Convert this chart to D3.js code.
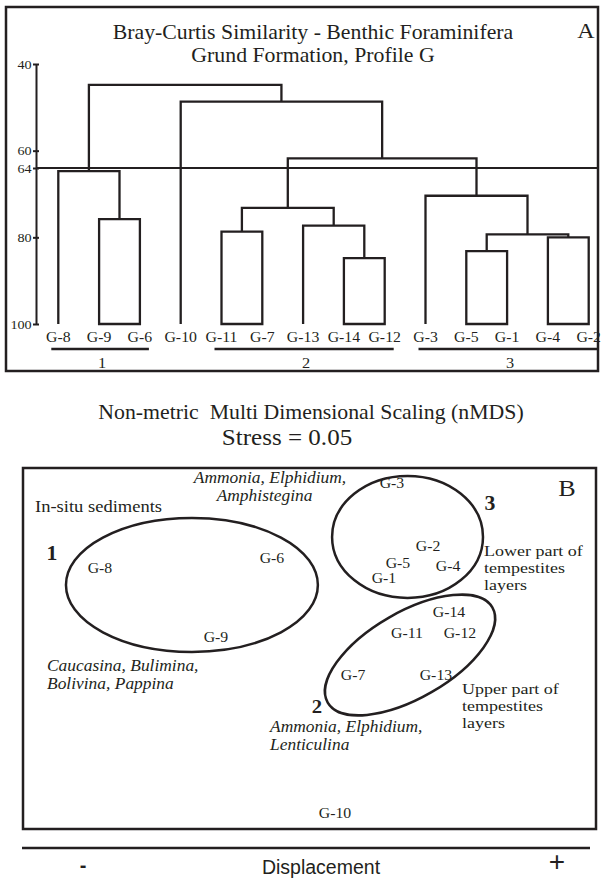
<!DOCTYPE html>
<html>
<head>
<meta charset="utf-8">
<script src="https://cdn.jsdelivr.net/npm/d3@7"></script>
<style>
  body { margin: 0; background: #fff; }
  svg { display: block; }
  text { font-family: "Liberation Serif", "Times New Roman", serif; fill: #231f20; }
  .sans { font-family: "Liberation Sans", Arial, sans-serif; }
</style>
</head>
<body>
<svg id="chart" width="603" height="879"></svg>
<script>
// ---- panel A: dendrogram data ----
const leaves = ['G-8', 'G-9', 'G-6', 'G-10', 'G-11', 'G-7', 'G-13', 'G-14', 'G-12', 'G-3', 'G-5', 'G-1', 'G-4', 'G-2'];
const simTicks = [40, 60, 64, 80, 100];
const cutLevel = 64;
// merge i joins mergeA[i] and mergeB[i] at mergeSim[i]; merged node is called "m" + i
const mergeA = ['G-9', 'G-8', 'G-11', 'G-14', 'G-13', 'm2', 'G-5', 'G-4', 'm6', 'G-3', 'm5', 'G-10', 'm1'];
const mergeB = ['G-6', 'm0', 'G-7', 'G-12', 'm3', 'm4', 'G-1', 'G-2', 'm7', 'm8', 'm9', 'm10', 'm11'];
const mergeSim = [75.8, 64.7, 78.7, 84.8, 77.3, 73.2, 83.2, 80.0, 79.3, 70.4, 61.8, 48.7, 44.8];
const clusterNames = ['1', '2', '3'];
const clusterFirst = ['G-8', 'G-11', 'G-3'];
const clusterLast = ['G-6', 'G-12', 'G-2'];

// ---- panel B: nMDS data ----
const mdsLabels = ['G-8', 'G-6', 'G-9', 'G-3', 'G-2', 'G-5', 'G-4', 'G-1', 'G-14', 'G-11', 'G-12', 'G-7', 'G-13', 'G-10'];
const mdsX = [-1.094, -0.198, -0.490, 0.427, 0.615, 0.458, 0.719, 0.385, 0.724, 0.505, 0.781, 0.224, 0.656, 0.130];
const mdsY = [0.446, 0.501, 0.064, 0.917, 0.568, 0.474, 0.457, 0.391, 0.202, 0.086, 0.086, -0.147, -0.147, -0.911];
const groupCx = [-0.615, 0.521, 0.508];
const groupCy = [0.352, -0.036, 0.618];
const groupRx = [0.656, 0.495, 0.393];
const groupRy = [0.371, 0.238, 0.338];
const groupTilt = [0, -30, 0];

const ink = '#231f20';
const stretch = 1.09; // the original lettering is a little wider than Times
const at = (px, py, s = stretch) => `translate(${px},${py}) scale(${s},1)`;
const svg = d3.select('#chart');

// multi-line serif label, drawn as one text with tspans
const note = (px, py, lines, opts = {}) => {
  const t = svg.append('text')
    .attr('transform', at(px, py, opts.stretch || stretch))
    .attr('font-size', opts.size || 17)
    .attr('text-anchor', opts.anchor || 'start');
  if (opts.italic) t.attr('font-style', 'italic');
  if (opts.bold) t.attr('font-weight', 'bold');
  if (opts.pre) t.style('white-space', 'pre');
  [].concat(lines).forEach((ln, i) => {
    t.append('tspan')
      .attr('x', opts.dx ? opts.dx[i] || 0 : 0)
      .attr('dy', i === 0 ? 0 : (opts.lead || 16.5))
      .text(ln);
  });
  return t;
};

// ================= panel A =================
svg.append('rect')
  .attr('x', 6).attr('y', 7).attr('width', 592).attr('height', 364)
  .attr('fill', 'none').attr('stroke', ink).attr('stroke-width', 2.5);

note(313, 39, ['Bray-Curtis Similarity - Benthic Foraminifera', 'Grund Formation, Profile G'],
  { size: 20, anchor: 'middle', lead: 23 });
note(586, 38, 'A', { size: 22, anchor: 'middle' });

const x = d3.scalePoint().domain(leaves).range([58.3, 588.7]);
const y = d3.scaleLinear().domain([40, 100]).range([64, 324]);

const yAxis = svg.append('g')
  .attr('transform', 'translate(36,0)')
  .call(d3.axisLeft(y).tickValues(simTicks).tickSize(3).tickPadding(1).tickSizeOuter(0));
yAxis.select('.domain').attr('stroke', ink).attr('stroke-width', 2);
yAxis.selectAll('.tick line').attr('stroke', ink).attr('stroke-width', 2).attr('x2', 3).attr('x1', -3);
yAxis.selectAll('.tick text')
  .attr('font-family', '"Liberation Serif", "Times New Roman", serif')
  .attr('font-size', 13).attr('fill', ink)
  .attr('transform', `scale(${stretch},1)`);

// cut line at 64
svg.append('line')
  .attr('x1', 36).attr('x2', 598).attr('y1', y(cutLevel)).attr('y2', y(cutLevel))
  .attr('stroke', ink).attr('stroke-width', 2);

const nodes = {};
leaves.forEach(name => { nodes[name] = { x: x(name), y: y(100), leaf: true }; });
mergeA.forEach((a, i) => {
  const na = nodes[a];
  const nb = nodes[mergeB[i]];
  nodes['m' + i] = { x: (na.x + nb.x) / 2, y: y(mergeSim[i]), a: na, b: nb, leaf: false };
});

const links = mergeA.map((_, i) => nodes['m' + i]);
svg.append('g').selectAll('path')
  .data(links)
  .join('path')
  .attr('d', d => {
    const p = d3.path();
    p.moveTo(d.a.x, d.a.y);
    p.lineTo(d.a.x, d.y);
    p.lineTo(d.b.x, d.y);
    p.lineTo(d.b.x, d.b.y);
    if (d.a.leaf && d.b.leaf) p.closePath();
    return p.toString();
  })
  .attr('fill', 'none')
  .attr('stroke', ink)
  .attr('stroke-width', 2.3);

svg.append('g').selectAll('text')
  .data(leaves)
  .join('text')
  .attr('transform', d => at(x(d), 342))
  .attr('text-anchor', 'middle')
  .attr('font-size', 14.5)
  .text(d => d);

const clusters = svg.append('g').selectAll('g')
  .data(clusterNames)
  .join('g');
clusters.append('line')
  .attr('x1', (d, i) => x(clusterFirst[i]) - 7)
  .attr('x2', (d, i) => Math.min(x(clusterLast[i]) + 9, 597))
  .attr('y1', 349).attr('y2', 349)
  .attr('stroke', ink).attr('stroke-width', 2.3);
clusters.append('text')
  .attr('transform', (d, i) => at((x(clusterFirst[i]) + x(clusterLast[i])) / 2 + 3, 368))
  .attr('text-anchor', 'middle')
  .attr('font-size', 15)
  .text(d => d);

// ================= panel B =================
note(311, 419, 'Non-metric  Multi Dimensional Scaling (nMDS)', { size: 20, anchor: 'middle', pre: true });
note(287, 445, 'Stress = 0.05', { size: 23, anchor: 'middle' });

svg.append('rect')
  .attr('x', 23).attr('y', 468).attr('width', 573).attr('height', 361)
  .attr('fill', 'none').attr('stroke', ink).attr('stroke-width', 2.5);

const mx = d3.scaleLinear().domain([-1.5, 1.5]).range([22, 598]);
const my = d3.scaleLinear().domain([-1, 1]).range([829, 468]);

svg.append('g').selectAll('ellipse')
  .data(groupCx)
  .join('ellipse')
  .attr('cx', 0).attr('cy', 0)
  .attr('rx', (d, i) => mx(d + groupRx[i]) - mx(d))
  .attr('ry', (d, i) => my(groupCy[i]) - my(groupCy[i] + groupRy[i]))
  .attr('transform', (d, i) => `translate(${mx(d)},${my(groupCy[i])}) rotate(${groupTilt[i]})`)
  .attr('fill', 'none')
  .attr('stroke', ink)
  .attr('stroke-width', 2.5);

svg.append('g').selectAll('text')
  .data(mdsLabels)
  .join('text')
  .attr('transform', (d, i) => at(mx(mdsX[i]), my(mdsY[i])))
  .attr('dy', '0.35em')
  .attr('text-anchor', 'middle')
  .attr('font-size', 14.5)
  .text(d => d);

// annotations
note(35, 512, 'In-situ sediments');
note(52, 560, '1', { size: 20, bold: true, anchor: 'middle' });
note(270, 483, ['Ammonia, Elphidium,', 'Amphistegina'], { italic: true, anchor: 'middle', size: 16, lead: 18, dx: [0, -5] });
note(567, 496, 'B', { size: 24, anchor: 'middle' });
note(490, 510, '3', { size: 20, bold: true, anchor: 'middle' });
note(484, 556, ['Lower part of', 'tempestites', 'layers'], { size: 15, lead: 16.8, stretch: 1.2 });
note(47, 671, ['Caucasina, Bulimina,', 'Bolivina, Pappina'], { italic: true, size: 16, lead: 18 });
note(317, 712.5, '2', { size: 19, bold: true, anchor: 'middle' });
note(270, 732, ['Ammonia, Elphidium,', 'Lenticulina'], { italic: true, size: 16, lead: 18 });
note(462, 694, ['Upper part of', 'tempestites', 'layers'], { size: 15, lead: 16.8, stretch: 1.2 });

// displacement gradient
svg.append('line')
  .attr('x1', 22).attr('x2', 590).attr('y1', 848).attr('y2', 848)
  .attr('stroke', ink).attr('stroke-width', 2.5);
svg.append('text').attr('class', 'sans').attr('x', 321).attr('y', 874)
  .attr('text-anchor', 'middle').attr('font-size', 19.5).text('Displacement');
svg.append('text').attr('class', 'sans').attr('x', 83).attr('y', 872)
  .attr('text-anchor', 'middle').attr('font-size', 20).attr('font-weight', 'bold').text('-');
svg.append('text').attr('class', 'sans').attr('x', 557).attr('y', 871)
  .attr('text-anchor', 'middle').attr('font-size', 28).text('+');
</script>
</body>
</html>
